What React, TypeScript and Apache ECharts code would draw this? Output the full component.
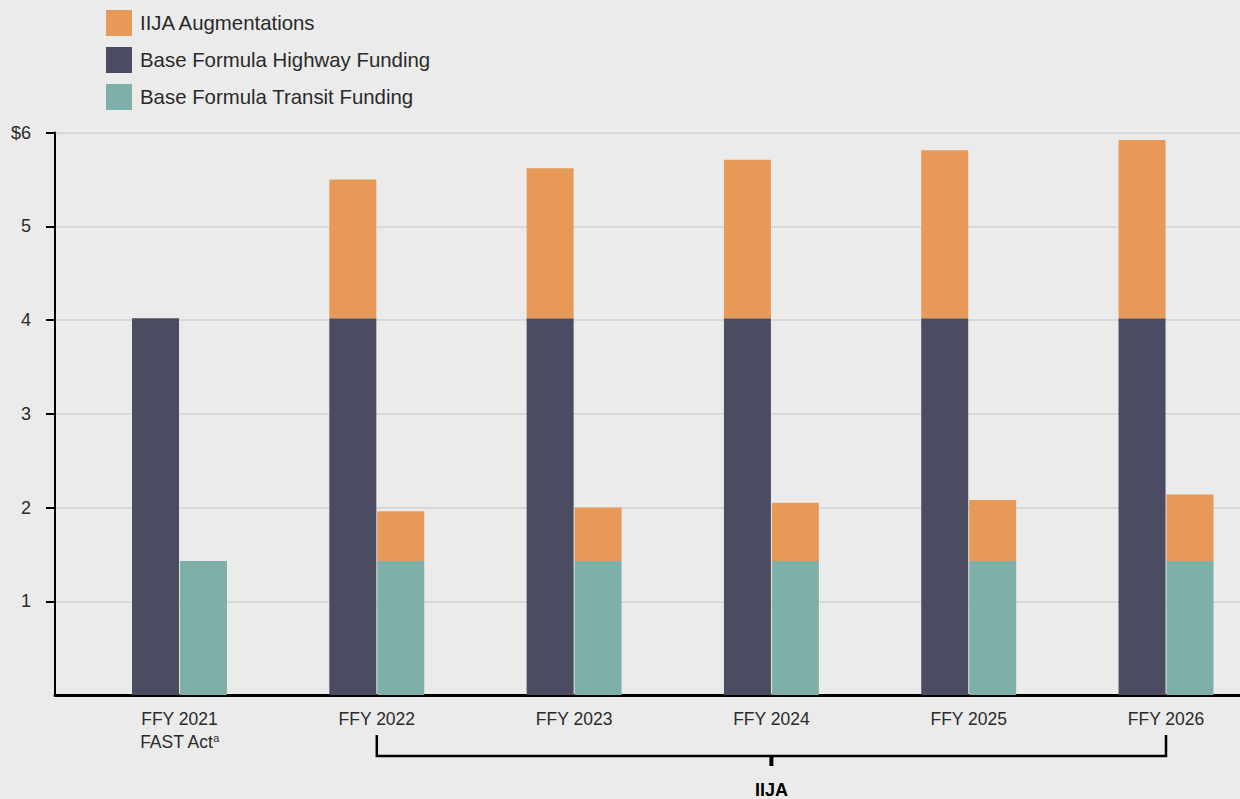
import React, { useEffect, useRef } from "react";
import * as echarts from "echarts";

const categories = ["FFY 2021", "FFY 2022", "FFY 2023", "FFY 2024", "FFY 2025", "FFY 2026"];
const categoryLabels = ["FFY 2021\nFAST Act{sup|a}", "FFY 2022", "FFY 2023", "FFY 2024", "FFY 2025", "FFY 2026"];
const baseHighway = [4.02, 4.02, 4.02, 4.02, 4.02, 4.02];
const iijaHighway = [null, 1.48, 1.6, 1.69, 1.79, 1.9];
const baseTransit = [1.43, 1.43, 1.43, 1.43, 1.43, 1.43];
const iijaTransit = [null, 0.53, 0.57, 0.62, 0.65, 0.71];
const yTickValues = [1, 2, 3, 4, 5, 6];
const bracketLabel = "IIJA";
const bracketFrom = 1;
const bracketTo = 5;

const ORANGE = "#E79A57";
const DARK = "#4B4C61";
const TEAL = "#7EAFA8";
const BG = "#EBEBEB";
const TXT = "#2a2a2a";
const FONT = "'Liberation Sans', Arial, Helvetica, sans-serif";

// value first (stacked dimension), category index second
const toPairs = (arr: (number | null)[]) => arr.map((v, i) => [v == null ? "-" : v, i]);

export default function App() {
  const ref = useRef<HTMLDivElement>(null);
  useEffect(() => {
    if (!ref.current) return;
    const chart = echarts.init(ref.current, undefined, { renderer: "svg" });
    const barCommon = {
      type: "bar",
      barWidth: 47,
      barGap: "2%",
      dimensions: ["value", "idx"],
      encode: { x: "idx", y: "value" },
    };
    const option: any = {
      animation: false,
      backgroundColor: BG,
      textStyle: { fontFamily: FONT },
      legend: {
        orient: "vertical",
        left: 106,
        top: 10,
        padding: 0,
        itemWidth: 26,
        itemHeight: 26,
        itemGap: 11,
        icon: "rect",
        data: ["IIJA Augmentations", "Base Formula Highway Funding", "Base Formula Transit Funding"],
        textStyle: { fontSize: 20.4, color: TXT, fontFamily: FONT, padding: [0, 0, 0, 3] },
        selectedMode: false,
      },
      grid: { left: 55, right: 0, top: 132.5, bottom: 104, containLabel: false },
      xAxis: {
        type: "value",
        min: -0.631,
        max: 5.375,
        axisLine: { show: true, onZero: false, lineStyle: { color: "#000", width: 3 } },
        axisTick: { show: false },
        splitLine: { show: false },
        axisLabel: {
          customValues: categories.map((_, i) => i),
          formatter: (v: number) => categoryLabels[Math.round(v)] ?? "",
          fontSize: 17.5,
          color: TXT,
          fontFamily: FONT,
          margin: 12,
          lineHeight: 23,
          rich: {
            sup: { fontSize: 11, color: TXT, fontFamily: FONT, padding: [0, 0, 7, 0], lineHeight: 23 },
          },
        },
      },
      yAxis: {
        type: "value",
        min: 0,
        max: 6,
        interval: 1,
        axisLine: { show: true, onZero: false, lineStyle: { color: "#000", width: 2 } },
        axisTick: { show: true, length: 9, customValues: yTickValues, lineStyle: { color: "#000", width: 2 } },
        splitLine: { show: true, lineStyle: { color: "#D8D8D8", width: 2 } },
        axisLabel: {
          fontSize: 18,
          color: TXT,
          fontFamily: FONT,
          margin: 24,
          formatter: (v: number) => (v === 6 ? "$6" : String(v)),
          customValues: yTickValues,
        },
      },
      series: [
        { ...barCommon, name: "Base Formula Highway Funding", stack: "hw", itemStyle: { color: DARK }, data: toPairs(baseHighway) },
        { ...barCommon, name: "IIJA Augmentations", stack: "hw", itemStyle: { color: ORANGE }, data: toPairs(iijaHighway) },
        { ...barCommon, name: "Base Formula Transit Funding", stack: "tr", itemStyle: { color: TEAL }, data: toPairs(baseTransit) },
        { ...barCommon, name: "IIJA Augmentations", stack: "tr", itemStyle: { color: ORANGE }, data: toPairs(iijaTransit) },
      ],
    };
    chart.setOption(option);

    const x1 = chart.convertToPixel({ xAxisIndex: 0 }, bracketFrom) as number;
    const x2 = chart.convertToPixel({ xAxisIndex: 0 }, bracketTo) as number;
    const y0 = chart.convertToPixel({ yAxisIndex: 0 }, 0) as number;
    const mid = (x1 + x2) / 2;
    const yTop = y0 + 40;
    const yBot = y0 + 61;
    chart.setOption({
      graphic: [
        {
          type: "polyline",
          shape: { points: [[x1, yTop], [x1, yBot], [x2, yBot], [x2, yTop]] },
          style: { stroke: "#000", lineWidth: 2.5, fill: "none" },
          silent: true,
        },
        {
          type: "rect",
          shape: { x: mid - 2, y: yBot, width: 4, height: 10 },
          style: { fill: "#000" },
          silent: true,
        },
        {
          type: "text",
          x: mid,
          y: y0 + 95,
          style: {
            text: bracketLabel,
            textAlign: "center",
            textVerticalAlign: "middle",
            fontSize: 18,
            fontWeight: "bold",
            fontFamily: FONT,
            fill: "#000",
          },
          silent: true,
        },
      ],
    });

    return () => chart.dispose();
  }, []);
  return (
    <div
      ref={ref}
      style={{ position: "fixed", left: 0, top: 0, width: 1240, height: 799, background: BG }}
    />
  );
}
